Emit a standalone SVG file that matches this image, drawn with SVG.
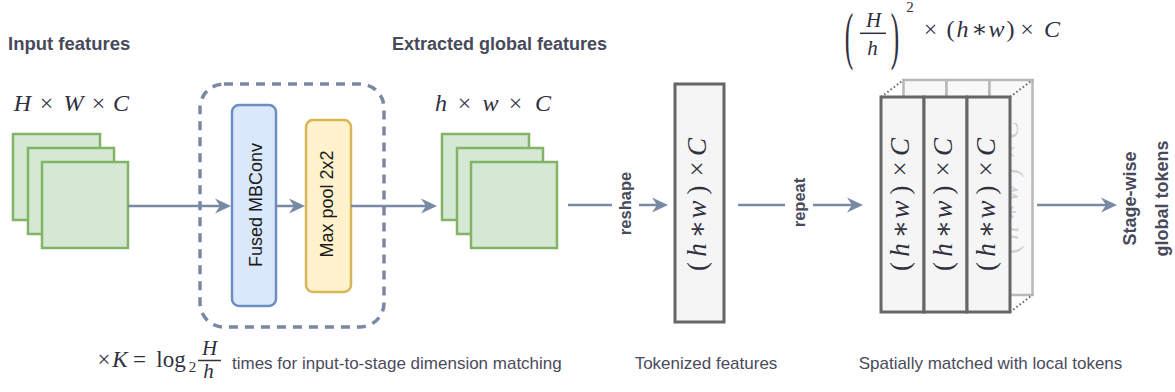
<svg xmlns="http://www.w3.org/2000/svg" width="1175" height="392" viewBox="0 0 1175 392">
<defs>
<marker id="ah" markerUnits="userSpaceOnUse" viewBox="-6 -8 18 16" refX="0" refY="0" markerWidth="18" markerHeight="16" orient="auto">
<path d="M11 0 L-5 -7.5 L0 0 L-5 7.5 Z" fill="#788aa3"/>
</marker>
<style>
.lbl{font-family:"Liberation Sans",Arial,sans-serif;font-weight:bold;fill:#474a5a}
.cap{font-family:"Liberation Sans",Arial,sans-serif;font-size:17px;fill:#4a4b5c}
.box{font-family:"Liberation Sans",Arial,sans-serif;font-size:18px;fill:#1a1a1a}
.m{font-family:"Liberation Serif","DejaVu Serif",serif;fill:#30303f;text-anchor:middle}
.i{font-style:italic}
.feat{fill:#d5e8d4;stroke:#82b366;stroke-width:2.5}
.tok{fill:#f5f5f5;stroke:#666666;stroke-width:3}
.back{fill:#f8f8f8;stroke:#b8b8b8;stroke-width:2.5}
.dot{stroke:#666666;stroke-width:2;stroke-dasharray:1.5 2.5;fill:none}
.conn{fill:none;stroke:#788aa3;stroke-width:2.5}
</style>
</defs>

<g id="input-features">
<text class="lbl" x="8" y="50" font-size="18.5">Input features</text>
<text class="m" font-size="24" y="110.5"><tspan class="i" x="22.5">H</tspan><tspan x="46.5">×</tspan><tspan class="i" x="73.5">W</tspan><tspan x="98.5">×</tspan><tspan class="i" x="121">C</tspan></text>
<rect class="feat" x="13" y="134" width="87" height="86"/>
<rect class="feat" x="28" y="148" width="86" height="86"/>
<rect class="feat" x="42" y="162" width="86" height="86"/>
</g>

<g id="repeat-block">
<rect x="200" y="84" width="184" height="243" rx="24" fill="none" stroke="#788aa3" stroke-width="3.5" stroke-dasharray="9 7"/>
</g>

<g id="fused-mbconv">
<rect x="232" y="105" width="44" height="201" rx="7" fill="#dae8fc" stroke="#6c8ebf" stroke-width="2.5"/>
<text class="box" transform="translate(261.5,205) rotate(-90)" text-anchor="middle">Fused MBConv</text>
</g>

<g id="max-pool">
<rect x="306" y="120" width="45" height="172" rx="7" fill="#fff2cc" stroke="#d6b656" stroke-width="2.5"/>
<text class="box" transform="translate(333,204) rotate(-90)" text-anchor="middle">Max pool 2x2</text>
</g>

<g id="extracted-features">
<text class="lbl" x="392" y="50" font-size="18">Extracted global features</text>
<text class="m" font-size="24" y="111"><tspan class="i" x="441">h</tspan><tspan x="464.5">×</tspan><tspan class="i" x="490.5">w</tspan><tspan x="515.5">×</tspan><tspan class="i" x="543">C</tspan></text>
<rect class="feat" x="442" y="134" width="87" height="86"/>
<rect class="feat" x="457" y="148" width="86" height="86"/>
<rect class="feat" x="471" y="162" width="86" height="86"/>
</g>

<g id="tokenized-features">
<rect class="tok" x="675" y="84" width="49" height="238"/>
<text class="m" font-size="27" transform="translate(706,0) rotate(-90)" y="0"><tspan x="-266.5">(</tspan><tspan class="i" x="-250">h</tspan><tspan x="-229">∗</tspan><tspan class="i" x="-209.5">w</tspan><tspan x="-190">)</tspan><tspan x="-169">×</tspan><tspan class="i" x="-147">C</tspan></text>
<text class="cap" x="706" y="369" text-anchor="middle">Tokenized features</text>
</g>

<g id="repeated-tokens">
<text class="m" font-size="24" y="37"><tspan x="930.5">×</tspan><tspan x="950.5">(</tspan><tspan class="i" x="962.5">h</tspan><tspan x="979.5">∗</tspan><tspan class="i" x="996.5">w</tspan><tspan x="1010.5">)</tspan><tspan x="1027">×</tspan><tspan class="i" x="1052">C</tspan></text>
<text class="m" font-size="46" transform="translate(849,57) scale(0.55,1.4)" x="0" y="0">(</text>
<text class="m" font-size="46" transform="translate(895,57) scale(0.55,1.4)" x="0" y="0">)</text>
<text class="m i" font-size="21" x="873.5" y="27">H</text>
<line x1="860" y1="33.3" x2="886" y2="33.3" stroke="#30303f" stroke-width="1.5"/>
<text class="m i" font-size="21" x="872.5" y="55">h</text>
<text class="m" font-size="15" x="910" y="12">2</text>

<rect class="back" x="903.5" y="80" width="43" height="215"/>
<rect class="back" x="946.5" y="80" width="43" height="215"/>
<rect class="back" x="989.5" y="80" width="43" height="215"/>
<text class="m" font-size="27" style="fill:#cfcfd4" transform="translate(1017.5,0) rotate(-90)" y="0"><tspan x="-249.5">(</tspan><tspan class="i" x="-233">h</tspan><tspan x="-212">∗</tspan><tspan class="i" x="-192.5">w</tspan><tspan x="-173">)</tspan><tspan x="-152">×</tspan><tspan class="i" x="-130">C</tspan></text>
<line class="dot" x1="881" y1="97" x2="903.5" y2="80"/>
<line class="dot" x1="1010" y1="97" x2="1032.5" y2="80"/>
<line class="dot" x1="1010" y1="312" x2="1032.5" y2="295"/>

<rect class="tok" x="881" y="97" width="43" height="215"/>
<rect class="tok" x="924" y="97" width="43" height="215"/>
<rect class="tok" x="967" y="97" width="43" height="215"/>
<text class="m" font-size="27" transform="translate(909,0) rotate(-90)" y="0"><tspan x="-266.5">(</tspan><tspan class="i" x="-250">h</tspan><tspan x="-229">∗</tspan><tspan class="i" x="-209.5">w</tspan><tspan x="-190">)</tspan><tspan x="-169">×</tspan><tspan class="i" x="-147">C</tspan></text>
<text class="m" font-size="27" transform="translate(952,0) rotate(-90)" y="0"><tspan x="-266.5">(</tspan><tspan class="i" x="-250">h</tspan><tspan x="-229">∗</tspan><tspan class="i" x="-209.5">w</tspan><tspan x="-190">)</tspan><tspan x="-169">×</tspan><tspan class="i" x="-147">C</tspan></text>
<text class="m" font-size="27" transform="translate(995,0) rotate(-90)" y="0"><tspan x="-266.5">(</tspan><tspan class="i" x="-250">h</tspan><tspan x="-229">∗</tspan><tspan class="i" x="-209.5">w</tspan><tspan x="-190">)</tspan><tspan x="-169">×</tspan><tspan class="i" x="-147">C</tspan></text>
<text class="cap" x="990.5" y="369" text-anchor="middle">Spatially matched with local tokens</text>
</g>

<g id="output-tokens">
<text class="lbl" font-size="18" text-anchor="middle" transform="translate(1136,198.5) rotate(-90)">Stage-wise</text>
<text class="lbl" font-size="18" text-anchor="middle" transform="translate(1168,198.5) rotate(-90)">global tokens</text>
</g>

<g id="repeat-note">
<text class="m" font-size="23" y="367"><tspan x="104">×</tspan><tspan class="i" x="120">K</tspan><tspan x="139.5">=</tspan><tspan x="171">log</tspan></text>
<text class="m" font-size="15" x="192.5" y="372">2</text>
<text class="m i" font-size="21" x="209.5" y="355">H</text>
<line x1="198" y1="360.5" x2="221" y2="360.5" stroke="#30303f" stroke-width="1.5"/>
<text class="m i" font-size="21" x="208.5" y="378">h</text>
<text class="cap" x="232" y="369">times for input-to-stage dimension matching</text>
</g>

<g id="connectors">
<path class="conn" d="M128 206 H220" marker-end="url(#ah)"/>
<path class="conn" d="M276 206 H294" marker-end="url(#ah)"/>
<path class="conn" d="M351 206 H426" marker-end="url(#ah)"/>
<path class="conn" d="M568 205 H612 M639 205 H657" marker-end="url(#ah)"/>
<text class="lbl" font-size="16.5" text-anchor="middle" transform="translate(631,203.5) rotate(-90)">reshape</text>
<path class="conn" d="M738 205 H785 M813 205 H852" marker-end="url(#ah)"/>
<text class="lbl" font-size="16.5" text-anchor="middle" transform="translate(805,202.5) rotate(-90)">repeat</text>
<path class="conn" d="M1037 205 H1106" marker-end="url(#ah)"/>
</g>
</svg>
